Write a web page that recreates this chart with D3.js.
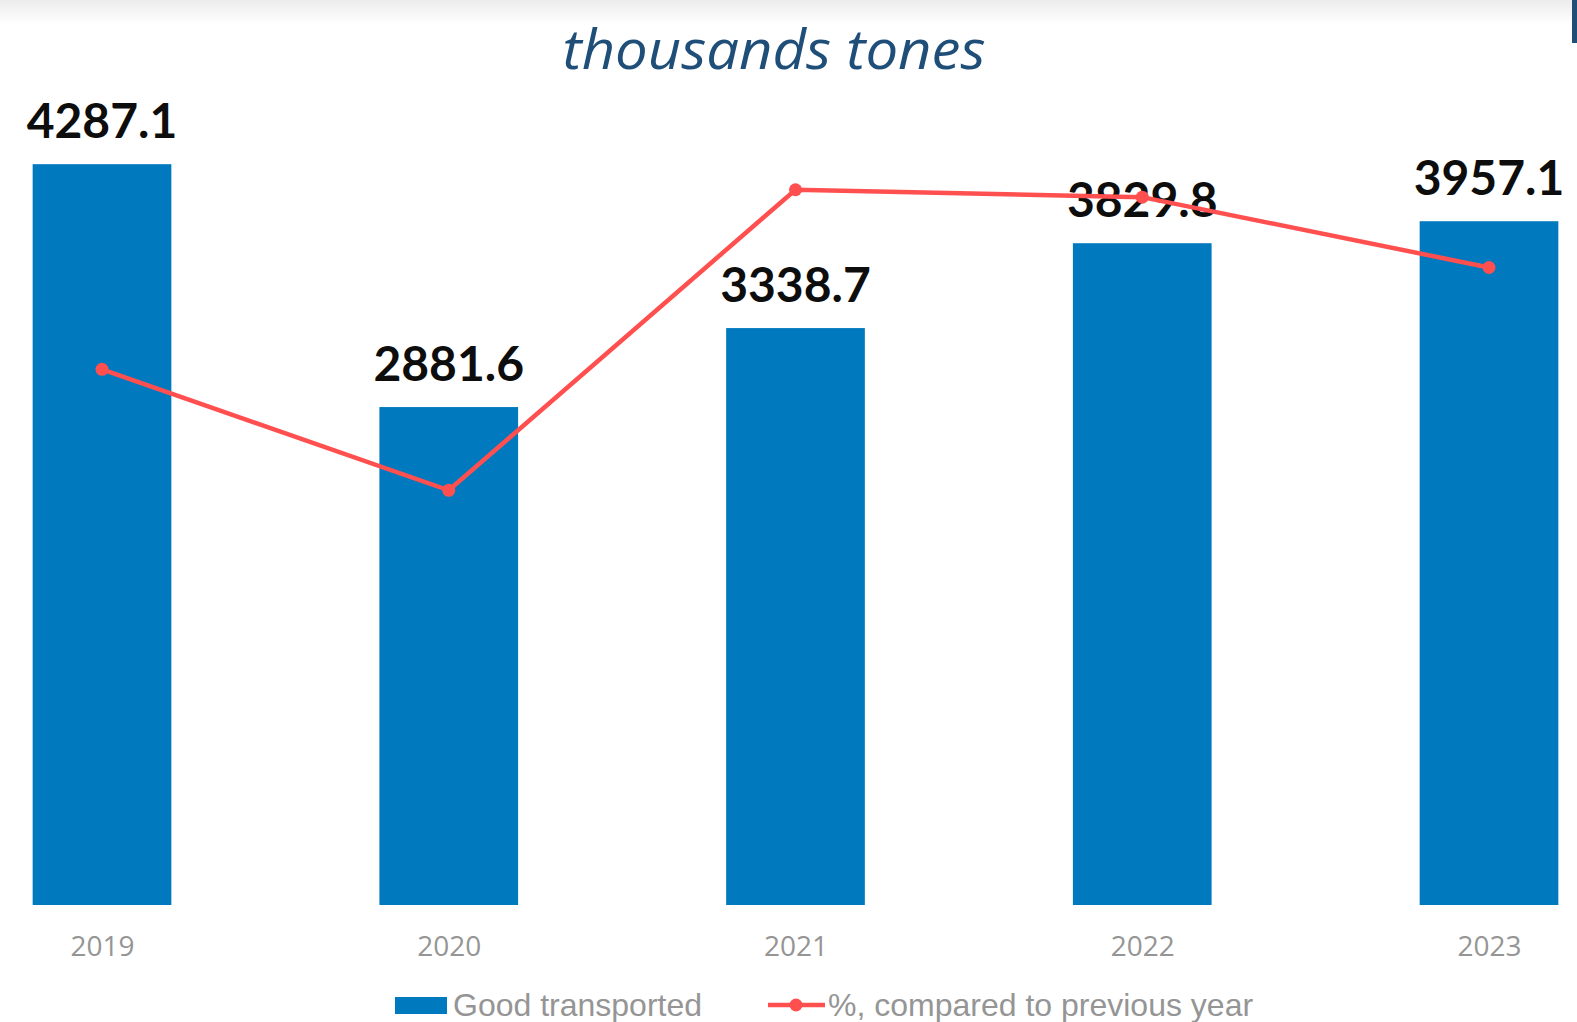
<!DOCTYPE html>
<html>
<head>
<meta charset="utf-8">
<script src="https://cdn.jsdelivr.net/npm/d3@7"></script>
<style>
  html, body { margin: 0; padding: 0; background: #fff; overflow: hidden; }
</style>
</head>
<body>
<script>
const width = 1577;
const height = 1022;

const years = ["2019", "2020", "2021", "2022", "2023"];
const goods = [4287.1, 2881.6, 3338.7, 3829.8, 3957.1];
const pctPrev = [86.8, 67.2, 115.9, 114.7, 103.3];

const barColor = "#0079bf";
const lineColor = "#ff4f4f";

const svg = d3.select("body")
    .append("svg")
    .attr("width", width)
    .attr("height", height);

// faint grey band at top
const defs = svg.append("defs");
const grad = defs.append("linearGradient")
    .attr("id", "topfade")
    .attr("x1", 0).attr("y1", 0).attr("x2", 0).attr("y2", 1);
grad.append("stop").attr("offset", "0%").attr("stop-color", "#ececec");
grad.append("stop").attr("offset", "100%").attr("stop-color", "#ffffff");
svg.append("rect")
    .attr("x", 0).attr("y", 0)
    .attr("width", width).attr("height", 24)
    .attr("fill", "url(#topfade)");
svg.append("rect")
    .attr("x", 1572).attr("y", 0)
    .attr("width", 5).attr("height", 43)
    .attr("fill", "#1f4e79");

// title
svg.append("text")
    .attr("x", 774)
    .attr("y", 69)
    .attr("text-anchor", "middle")
    .attr("font-family", "'Open Sans', sans-serif")
    .attr("font-style", "italic")
    .attr("font-size", 55)
    .attr("textLength", 423)
    .attr("lengthAdjust", "spacingAndGlyphs")
    .attr("fill", "#1f4e79")
    .text("thousands tones");

const x = d3.scalePoint()
    .domain(years)
    .range([102, 1489]);
const barW = x.step() * 0.4;

const y = d3.scaleLinear()
    .domain([0, 5000])
    .range([905, 41]);

const y2 = d3.scaleLinear()
    .domain([0, 140])
    .range([905, 41]);

// bars
svg.selectAll("rect.bar")
    .data(years)
    .enter()
    .append("rect")
    .attr("class", "bar")
    .attr("x", (d) => x(d) - barW / 2)
    .attr("y", (d, i) => y(goods[i]))
    .attr("width", barW)
    .attr("height", (d, i) => y(0) - y(goods[i]))
    .attr("fill", barColor);

// value labels
svg.selectAll("text.val")
    .data(years)
    .enter()
    .append("text")
    .attr("class", "val")
    .attr("x", (d) => x(d))
    .attr("y", (d, i) => y(goods[i]) - 26)
    .attr("text-anchor", "middle")
    .attr("font-family", "Lato, sans-serif")
    .attr("font-weight", "bold")
    .attr("font-size", 48)
    .attr("fill", "#0d0d0d")
    .text((d, i) => goods[i].toFixed(1));

// x axis labels
const xAxis = svg.append("g")
    .attr("transform", "translate(0, 905)")
    .call(d3.axisBottom(x).tickSize(0).tickPadding(0));
xAxis.select(".domain").remove();
xAxis.selectAll("text")
    .attr("dy", 0)
    .attr("y", 51)
    .attr("font-family", "'Open Sans', sans-serif")
    .attr("font-size", 28)
    .attr("fill", "#959595");

// line series
const line = d3.line()
    .x((d) => x(d))
    .y((d, i) => y2(pctPrev[i]));

svg.append("path")
    .datum(years)
    .attr("d", line)
    .attr("fill", "none")
    .attr("stroke", lineColor)
    .attr("stroke-width", 4.5);

svg.selectAll("circle.pt")
    .data(years)
    .enter()
    .append("circle")
    .attr("class", "pt")
    .attr("cx", (d) => x(d))
    .attr("cy", (d, i) => y2(pctPrev[i]))
    .attr("r", 6.5)
    .attr("fill", lineColor);

// legend
const legend = svg.append("g")
    .attr("font-family", "'Liberation Sans', Arial, sans-serif")
    .attr("font-size", 32)
    .attr("fill", "#959595");

legend.append("rect")
    .attr("x", 395).attr("y", 997)
    .attr("width", 52).attr("height", 17)
    .attr("fill", barColor);
legend.append("text")
    .attr("x", 453).attr("y", 1016)
    .text("Good transported");

legend.append("line")
    .attr("x1", 768).attr("x2", 825)
    .attr("y1", 1005).attr("y2", 1005)
    .attr("stroke", lineColor)
    .attr("stroke-width", 4.5);
legend.append("circle")
    .attr("cx", 796).attr("cy", 1005)
    .attr("r", 6.5)
    .attr("fill", lineColor);
legend.append("text")
    .attr("x", 828).attr("y", 1016)
    .text("%, compared to previous year");
</script>
</body>
</html>
